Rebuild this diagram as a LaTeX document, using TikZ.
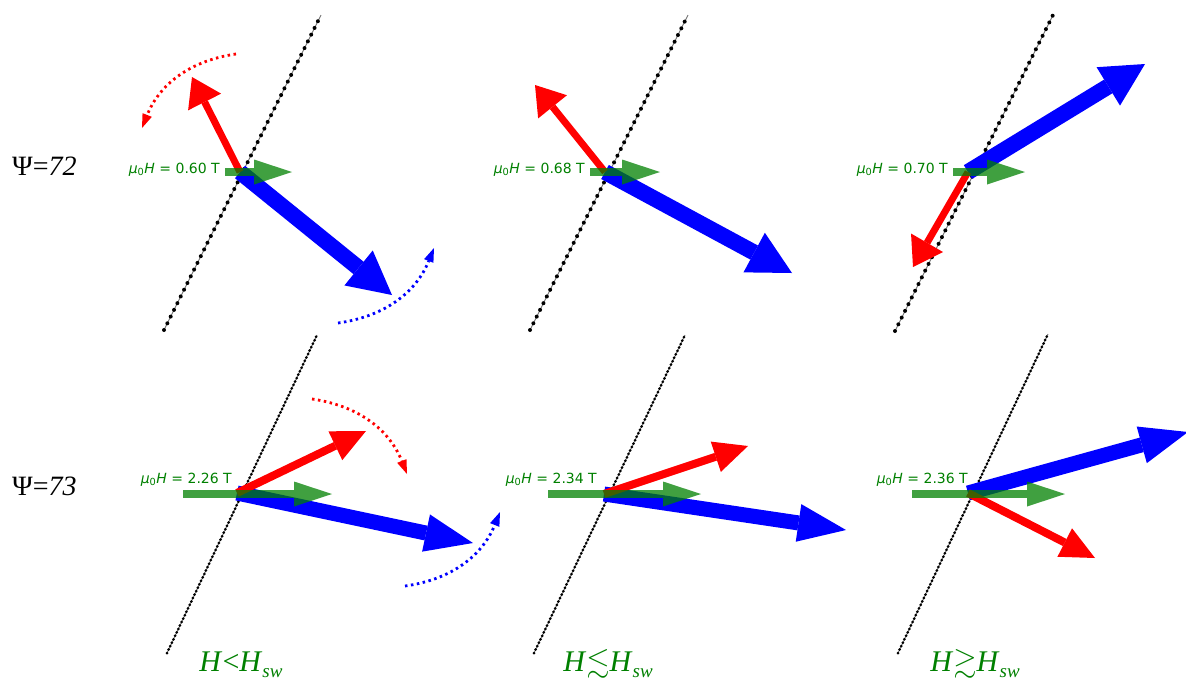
\documentclass[tikz,border=0pt]{standalone}
\usepackage{amssymb}
\usepackage{fontspec}
\setmainfont{Liberation Serif}
\newfontfamily\fieldfont{DejaVu Sans}
\usepackage{tikz}
\usetikzlibrary{arrows.meta}

\definecolor{fieldgreen}{RGB}{0,128,0}

\tikzset{
  redvec/.style={red, line width=7pt, -{Triangle[length=28pt, width=37pt, line width=0pt]}},
  bluevec/.style={blue, line width=16pt, -{Triangle[length=43pt, width=45pt, line width=0pt]}},
  fieldvec/.style={fieldgreen, opacity=0.75, line width=7.5pt, -{Triangle[length=38pt, width=25pt, line width=0pt]}},
  wall/.style={line width=4pt, line cap=round, dash pattern=on 0pt off 7.5pt},
  wallline/.style={black!55, line width=0.9pt},
  turn/.style={line width=2.8pt, dash pattern=on 2.5pt off 3.5pt, -{Triangle[length=14pt, width=10pt, line width=0pt]}},
  fieldlbl/.style={fieldgreen, inner sep=0pt, anchor=base east, font=\fieldfont\fontsize{14}{16}\selectfont},
  psilbl/.style={inner sep=0pt, anchor=base west, font=\fontsize{28}{32}\selectfont},
  caselbl/.style={fieldgreen, inner sep=0pt, anchor=base, font=\fontsize{30}{34}\selectfont}
}

\begin{document}
\begin{tikzpicture}[x=1pt, y=-1pt]
  \useasboundingbox (0,0) rectangle (1186,681);
  \def\muH#1{\textit{μ}\textsubscript{0}\textit{H} = #1 T}
  \def\sw{\raisebox{-0.2em}{\fontsize{19}{20}\selectfont\textit{sw}}}

  \node[psilbl] (psi72) at (12,175) {Ψ=\textit{72}};
  \node[psilbl] (psi73) at (12,495) {Ψ=\textit{73}};

  % top row
  \coordinate (c1) at (240,172);
  \coordinate (r1) at (192,77);
  \coordinate (b1) at (392,295);
  \coordinate (g1s) at (225,172);
  \coordinate (g1) at (292,172);
  \draw[wallline] (164,330) -- (321,15);
  \draw[wall] (164,330) -- (321,15);
  \draw[bluevec] (c1) -- (b1);
  \draw[redvec] (c1) -- (r1);
  \draw[fieldvec] (g1s) -- (g1);
  \node[fieldlbl] (h1) at (220,173) {\muH{0.60}};
  \coordinate (ra1) at (236,54);
  \coordinate (ra2) at (142,128);
  \coordinate (ba1) at (338,323);
  \coordinate (ba2) at (434,248);
  \draw[turn, red] (ra1) to[bend right=30] (ra2);
  \draw[turn, blue] (ba1) to[bend right=30] (ba2);

  \coordinate (c2) at (605,172);
  \coordinate (r2) at (535,85);
  \coordinate (b2) at (792,273);
  \coordinate (g2s) at (590,172);
  \coordinate (g2) at (660,172);
  \draw[wallline] (530,330) -- (688,15);
  \draw[wall] (530,330) -- (688,15);
  \draw[bluevec] (c2) -- (b2);
  \draw[redvec] (c2) -- (r2);
  \draw[fieldvec] (g2s) -- (g2);
  \node[fieldlbl] (h2) at (585,173) {\muH{0.68}};

  \coordinate (c3) at (968,172);
  \coordinate (r3) at (913,267);
  \coordinate (b3) at (1145,64);
  \coordinate (g3s) at (953,172);
  \coordinate (g3) at (1025,172);
  \draw[wallline] (895,331) -- (1053,15);
  \draw[wall] (895,331) -- (1053,15);
  \draw[bluevec] (c3) -- (b3);
  \draw[redvec] (c3) -- (r3);
  \draw[fieldvec] (g3s) -- (g3);
  \node[fieldlbl] (h3) at (948,173) {\muH{0.70}};

  % bottom row
  \begin{scope}[wall/.append style={dash pattern=on 0pt off 3.8pt, line width=3pt},
                redvec/.append style={line width=8pt, -{Triangle[length=34pt, width=32pt, line width=0pt]}},
                bluevec/.append style={line width=15pt, -{Triangle[length=48pt, width=38pt, line width=0pt]}}]
    \coordinate (c4) at (237,493);
    \coordinate (r4) at (366,431);
    \coordinate (b4) at (473,543);
    \coordinate (g4s) at (183,494);
    \coordinate (g4) at (332,494);
    \draw[wallline] (167,653) -- (317,335);
    \draw[wall] (167,653) -- (317,335);
    \draw[bluevec] (c4) -- (b4);
    \draw[redvec] (c4) -- (r4);
    \draw[fieldvec] (g4s) -- (g4);
    \node[fieldlbl] (h4) at (232,483) {\muH{2.26}};
    \coordinate (ra3) at (312,399);
    \coordinate (ra4) at (407,474);
    \coordinate (ba3) at (405,586);
    \coordinate (ba4) at (500,512);
    \draw[turn, red] (ra3) to[bend left=30] (ra4);
    \draw[turn, blue] (ba3) to[bend right=30] (ba4);

    \coordinate (c5) at (604,494);
    \coordinate (r5) at (748,446);
    \coordinate (b5) at (846,530);
    \coordinate (g5s) at (548,494);
    \coordinate (g5) at (701,494);
    \draw[wallline] (534,653) -- (685,335);
    \draw[wall] (534,653) -- (685,335);
    \draw[bluevec] (c5) -- (b5);
    \draw[redvec] (c5) -- (r5);
    \draw[fieldvec] (g5s) -- (g5);
    \node[fieldlbl] (h5) at (597,483) {\muH{2.34}};

    \coordinate (c6) at (968,493);
    \coordinate (r6) at (1095,558);
    \coordinate (b6) at (1188,432);
    \coordinate (g6s) at (912,494);
    \coordinate (g6) at (1065,494);
    \draw[wallline] (898,653) -- (1048,334);
    \draw[wall] (898,653) -- (1048,334);
    \draw[bluevec] (c6) -- (b6);
    \draw[redvec] (c6) -- (r6);
    \draw[fieldvec] (g6s) -- (g6);
    \node[fieldlbl] (h6) at (968,483) {\muH{2.36}};
  \end{scope}

  \node[caselbl] (lt) at (241,671) {\textit{H}<\textit{H}\sw};
  \node[caselbl] (le) at (608,671) {\textit{H}$\lesssim$\textit{H}\sw};
  \node[caselbl] (ge) at (975,671) {\textit{H}$\gtrsim$\textit{H}\sw};
\end{tikzpicture}
\end{document}
